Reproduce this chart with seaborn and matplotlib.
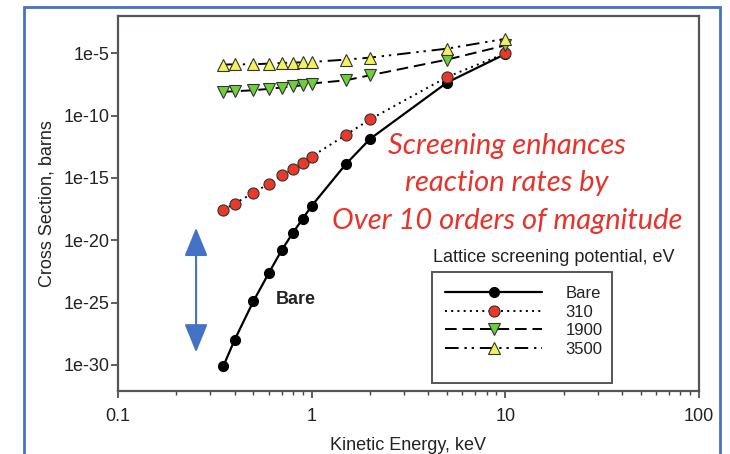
import numpy as np
import pandas as pd
import seaborn as sns
import matplotlib.pyplot as plt
from matplotlib.patches import Rectangle
from matplotlib.ticker import FixedLocator, NullLocator, LogLocator

# Kinetic energy (keV) and log10 of cross section (barns)
energy = [0.35, 0.4, 0.5, 0.6, 0.7, 0.8, 0.9, 1.0, 1.5, 2, 5, 10]
log_bare = [-30.1, -28.0, -24.9, -22.65, -20.8, -19.4, -18.26, -17.24, -13.9, -11.87, -7.34, -5.05]
log_310 = [-17.55, -17.06, -16.2, -15.46, -14.8, -14.27, -13.8, -13.28, -11.55, -10.3, -6.9, -5.0]
log_1900 = [-8.09, -8.04, -7.96, -7.85, -7.74, -7.64, -7.56, -7.42, -7.16, -6.76, -5.5, -4.36]
log_3500 = [-5.9, -5.88, -5.88, -5.82, -5.77, -5.74, -5.72, -5.69, -5.5, -5.34, -4.62, -3.83]

series_names = ["Bare", "310", "1900", "3500"]
y_ticks = [1e-5, 1e-10, 1e-15, 1e-20, 1e-25, 1e-30]
y_tick_labels = ["1e-5", "1e-10", "1e-15", "1e-20", "1e-25", "1e-30"]
x_ticks = [0.1, 1, 10, 100]
x_tick_labels = ["0.1", "1", "10", "100"]

df = pd.DataFrame({
    "energy": energy * 4,
    "sigma": np.power(10.0, log_bare + log_310 + log_1900 + log_3500),
    "series": np.repeat(series_names, len(energy)),
})

sns.set_style("white")
plt.rcParams["font.family"] = ["Liberation Sans", "DejaVu Sans"]

fig = plt.figure(figsize=(7.3, 4.54), dpi=100)
ax = fig.add_axes([118 / 730, 1 - 391 / 454, 581 / 730, 375 / 454])

styles = {
    "Bare": dict(marker="o", markersize=7.2, markerfacecolor="black", markeredgecolor="black",
                 linestyle="-", lw=1.6),
    "310": dict(marker="o", markersize=8, markerfacecolor="#e8392a", markeredgecolor="#333333",
                linestyle=(0, (1, 2.2)), lw=1.4),
    "1900": dict(marker="v", markersize=8, markerfacecolor="#6fcf3a", markeredgecolor="#333333",
                 linestyle=(0, (6, 3)), lw=1.4),
    "3500": dict(marker="^", markersize=8, markerfacecolor="#f2f25a", markeredgecolor="#333333",
                 linestyle=(0, (7, 3, 1.2, 2.5, 1.2, 3)), lw=1.4),
}

for name in series_names:
    sub = df[df["series"] == name]
    sns.lineplot(data=sub, x="energy", y="sigma", ax=ax, color="black", label=name,
                 markeredgewidth=0.8, **styles[name])

ax.set_xscale("log")
ax.set_yscale("log")
ax.set_xlim(0.1, 100)
ax.set_ylim(10 ** -32.1, 1e-2)

ax.yaxis.set_major_locator(FixedLocator(y_ticks))
ax.set_yticklabels(y_tick_labels)
ax.yaxis.set_minor_locator(NullLocator())
ax.xaxis.set_major_locator(FixedLocator(x_ticks))
ax.set_xticklabels(x_tick_labels)
ax.xaxis.set_minor_locator(LogLocator(base=10, subs=np.arange(2, 10)))
ax.xaxis.set_minor_formatter(plt.NullFormatter())

ax.tick_params(axis="both", which="major", direction="out", length=5, width=1.2,
               color="#444444", labelsize=13, labelcolor="#222222",
               bottom=True, left=True)
ax.tick_params(axis="y", which="major", pad=1)
ax.tick_params(axis="x", which="major", pad=7)
ax.tick_params(axis="x", which="minor", direction="out", length=3, width=1,
               color="#444444", bottom=True)
for sp in ax.spines.values():
    sp.set_color("#555555")
    sp.set_linewidth(1.6)

ax.set_xlabel("Kinetic Energy, keV", fontsize=13, color="#222222", labelpad=9)
ax.set_ylabel("Cross Section, barns", fontsize=13, color="#222222", labelpad=6)

# legend with separate title and frame
handles, labels = ax.get_legend_handles_labels()
leg = ax.legend(handles, labels, loc="upper left", bbox_to_anchor=(0.552, 0.298),
                frameon=False, fontsize=12, handlelength=5.8, handletextpad=1.4,
                labelspacing=0.22, numpoints=1, borderaxespad=0)
for t in leg.get_texts():
    t.set_color("#222222")
ax.add_patch(Rectangle((0.540, 0.0213), 0.310, 0.296, transform=ax.transAxes,
                       fill=False, edgecolor="#555555", lw=1.4, zorder=5))
ax.text(0.750, 0.356, "Lattice screening potential, eV", transform=ax.transAxes,
        ha="center", va="center", fontsize=13, color="#222222")

ax.text(0.306, 0.243, "Bare", transform=ax.transAxes, ha="center", va="center",
        fontsize=13, fontweight="bold", color="#222222")

red_lines = ["Screening enhances", "reaction rates by", "Over 10 orders of magnitude"]
for i, line in enumerate(red_lines):
    fig.text(507 / 730, 1 - (146 + 37.5 * i) / 454, line, ha="center", va="center",
             fontsize=21, fontstyle="italic", color="#e8322a", family=["Lato", "DejaVu Sans"])

ax.annotate("", xy=(0.253, 1e-19), xytext=(0.253, 1e-29),
            arrowprops=dict(arrowstyle="<|-|>,head_length=1.1,head_width=0.45",
                            color="#4472c4", lw=1.5, shrinkA=0, shrinkB=0,
                            mutation_scale=16))

fig.patches.append(Rectangle((24 / 730, -0.05), 696 / 730, 1.05 - 7 / 454,
                             transform=fig.transFigure, fill=False,
                             edgecolor="#4472c4", lw=2))

fig.savefig("out.png", dpi=100)
